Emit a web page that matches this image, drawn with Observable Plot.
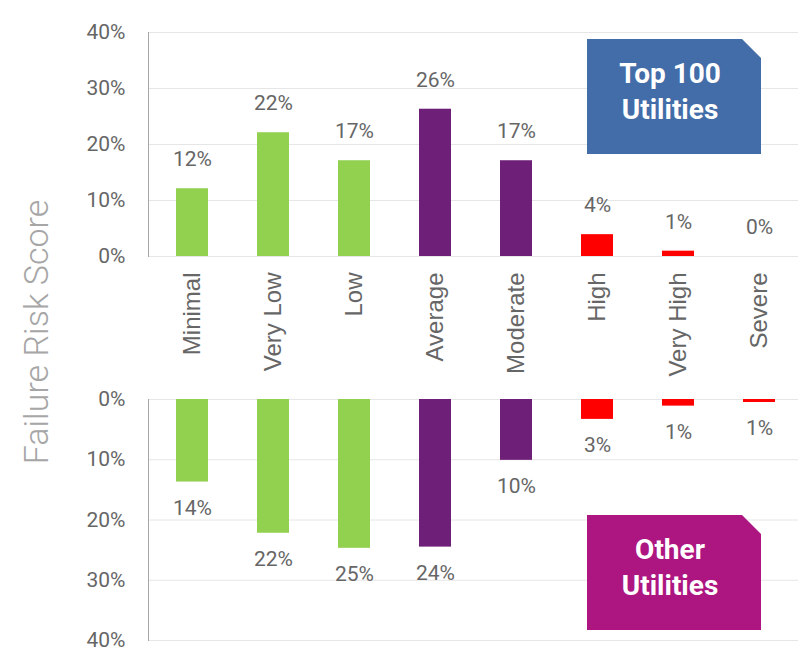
<!DOCTYPE html>
<html>
<head>
<meta charset="utf-8">
<script src="https://cdn.jsdelivr.net/npm/d3@7"></script>
<script src="https://cdn.jsdelivr.net/npm/@observablehq/plot@0.6"></script>
<style>
  body { margin: 0; background: white; }
  #wrap { position: relative; width: 798px; height: 669px; overflow: hidden; }
  .badge { position: absolute; width: 174px; height: 115px; color: white;
    font: 700 28px Roboto, sans-serif; text-align: center; line-height: 36px;
    box-sizing: border-box; padding-top: 17px; padding-right: 8px;
    clip-path: polygon(0 0, 155px 0, 174px 19px, 174px 100%, 0 100%); }
  #ylab { position: absolute; left: 36px; top: 332px; transform: translate(-50%, -50%) rotate(-90deg);
    white-space: nowrap; font: 300 34px Roboto, sans-serif; color: #a6a6a6; }
</style>
</head>
<body>
<div id="wrap"></div>
<script>
const categories = ["Minimal", "Very Low", "Low", "Average", "Moderate", "High", "Very High", "Severe"];
const topValues = [12.1, 22.1, 17.1, 26.3, 17.1, 3.9, 0.95, 0];
const topLabels = ["12%", "22%", "17%", "26%", "17%", "4%", "1%", "0%"];
const otherValues = [13.7, 22.2, 24.7, 24.5, 10.1, 3.3, 1.1, 0.5];
const otherLabels = ["14%", "22%", "25%", "24%", "10%", "3%", "1%", "1%"];
const barColors = ["#92D050", "#92D050", "#92D050", "#6E1F77", "#6E1F77", "#FF0000", "#FF0000", "#FF0000"];
const yTicks = [0, 10, 20, 30, 40];

const topData = categories.map((c, i) => ({cat: c, value: topValues[i], label: topLabels[i], color: barColors[i]}));
const otherData = categories.map((c, i) => ({cat: c, value: otherValues[i], label: otherLabels[i], color: barColors[i]}));

const xScale = {domain: categories, range: [149, 802], paddingInner: 0.61, paddingOuter: 0.305};
const tickFmt = d => d + "%";
const style = {fontFamily: "Roboto, sans-serif", background: "transparent", overflow: "visible"};

const topPlot = Plot.plot({
  width: 798, height: 380,
  marginLeft: 148, marginRight: 0, marginTop: 32, marginBottom: 124,
  style,
  x: xScale,
  y: {domain: [0, 40], label: null},
  marks: [
    Plot.gridY(yTicks, {stroke: "#e6e6e6", strokeOpacity: 1}),
    Plot.frame({anchor: "left", stroke: "#a6a6a6"}),
    Plot.barY(topData, {x: "cat", y: "value", fill: "color"}),
    Plot.text(topData, {x: "cat", y: "value", text: "label", dy: -29, fontSize: 21, fill: "#666"}),
    Plot.axisY({ticks: yTicks, tickFormat: tickFmt, tickSize: 0, tickPadding: 23, fontSize: 21, fill: "#666", label: null}),
    Plot.axisX({tickSize: 0, tickPadding: 16, tickRotate: -90, fontSize: 24, fontFamily: "Liberation Sans, Arial, sans-serif", fill: "#666", label: null})
  ]
});

const otherPlot = Plot.plot({
  width: 798, height: 289,
  marginLeft: 148, marginRight: 0, marginTop: 19, marginBottom: 29,
  style,
  x: {...xScale, axis: null},
  y: {domain: [0, 40], reverse: true, label: null},
  marks: [
    Plot.gridY(yTicks, {stroke: "#e6e6e6", strokeOpacity: 1}),
    Plot.frame({anchor: "left", stroke: "#a6a6a6"}),
    Plot.barY(otherData, {x: "cat", y: "value", fill: "color"}),
    Plot.text(otherData, {x: "cat", y: "value", text: "label", dy: 26, fontSize: 21, fill: "#666"}),
    Plot.axisY({ticks: yTicks, tickFormat: tickFmt, tickSize: 0, tickPadding: 23, fontSize: 21, fill: "#666", label: null}),
  ]
});

const wrap = document.getElementById("wrap");
wrap.appendChild(topPlot);
wrap.appendChild(otherPlot);

const ylab = document.createElement("div");
ylab.id = "ylab";
ylab.textContent = "Failure Risk Score";
wrap.appendChild(ylab);

function badge(lines, color, left, top) {
  const b = document.createElement("div");
  b.className = "badge";
  b.style.left = left + "px";
  b.style.top = top + "px";
  b.style.background = color;
  lines.forEach(t => { const d = document.createElement("div"); d.textContent = t; b.appendChild(d); });
  wrap.appendChild(b);
}
badge(["Top 100", "Utilities"], "#436DA8", 587, 39);
badge(["Other", "Utilities"], "#AD1681", 587, 515);
</script>
</body>
</html>
